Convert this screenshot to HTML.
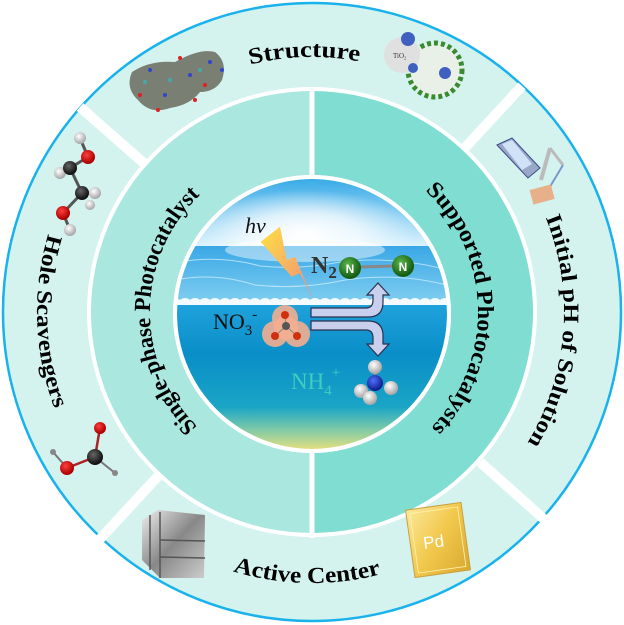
<!DOCTYPE html>
<html><head><meta charset="utf-8"><style>
html,body{margin:0;padding:0;background:#fff;width:624px;height:625px;overflow:hidden}
svg{display:block}
.t{font-family:"Liberation Serif",serif;font-weight:bold;fill:#000}
</style></head><body>
<svg width="624" height="625" viewBox="0 0 624 625">
<defs>
<clipPath id="cc"><circle cx="312" cy="314" r="135"/></clipPath>
<linearGradient id="sky" x1="0" y1="0" x2="0" y2="1">
<stop offset="0" stop-color="#2ea6e6"/><stop offset="1" stop-color="#e6f7ff"/></linearGradient>
<radialGradient id="sun" cx="0.5" cy="0.5" r="0.5">
<stop offset="0" stop-color="#fff" stop-opacity="1"/><stop offset="0.5" stop-color="#fff" stop-opacity="0.7"/><stop offset="1" stop-color="#fff" stop-opacity="0"/></radialGradient>
<linearGradient id="sea" x1="0" y1="0" x2="0" y2="1">
<stop offset="0" stop-color="#3aa8e6"/><stop offset="1" stop-color="#7fcdf0"/></linearGradient>
<linearGradient id="water" x1="0" y1="0" x2="0" y2="1">
<stop offset="0" stop-color="#21a3dc"/><stop offset="0.35" stop-color="#0a8ec8"/><stop offset="0.7" stop-color="#1aa5c6"/><stop offset="0.85" stop-color="#7fcaa8"/><stop offset="1" stop-color="#f0e27a"/></linearGradient>
<linearGradient id="bolt" x1="0" y1="0" x2="1" y2="1">
<stop offset="0" stop-color="#ffe040"/><stop offset="1" stop-color="#f08a80"/></linearGradient>
<radialGradient id="gr" cx="0.4" cy="0.35" r="0.6"><stop offset="0" stop-color="#5cb84c"/><stop offset="1" stop-color="#145c12"/></radialGradient>
<radialGradient id="wh" cx="0.4" cy="0.35" r="0.6"><stop offset="0" stop-color="#fff"/><stop offset="1" stop-color="#aaa"/></radialGradient>
<radialGradient id="rd" cx="0.4" cy="0.35" r="0.6"><stop offset="0" stop-color="#ff4040"/><stop offset="1" stop-color="#a00"/></radialGradient>
<radialGradient id="bk" cx="0.4" cy="0.35" r="0.6"><stop offset="0" stop-color="#666"/><stop offset="1" stop-color="#111"/></radialGradient>
<radialGradient id="bl" cx="0.4" cy="0.35" r="0.6"><stop offset="0" stop-color="#5070ff"/><stop offset="1" stop-color="#102090"/></radialGradient>
<linearGradient id="met" x1="0" y1="0" x2="1" y2="1"><stop offset="0" stop-color="#eee"/><stop offset="0.5" stop-color="#888"/><stop offset="1" stop-color="#ccc"/></linearGradient>
<linearGradient id="gold" x1="0" y1="0" x2="1" y2="1"><stop offset="0" stop-color="#fbe89a"/><stop offset="0.5" stop-color="#f2c84c"/><stop offset="1" stop-color="#d8a830"/></linearGradient>
<path id="pS" d="M250,64.6 A255,255 0 0 1 360,61.5"/>
<path id="pA" d="M233,571.2 A271,271 0 0 0 385,573"/>
<path id="pH" d="M48.3,233.9 A275,275 0 0 0 55.3,410.6"/>
<path id="pI" d="M545.6,217.6 A252,252 0 0 1 525.7,445.5"/>
<path id="pSP" d="M197.4,426.6 A162,162 0 0 1 203.6,191.6"/>
<path id="pSu" d="M425.2,190.6 A166,166 0 0 1 427.3,431.4"/>
</defs>

<circle cx="312" cy="312" r="309" fill="#d4f3ef" stroke="#1ab2ec" stroke-width="2.5"/>
<g stroke="#fff" stroke-width="10">
<line x1="146" y1="165" x2="80" y2="107"/>
<line x1="462" y1="151" x2="522" y2="86"/>
<line x1="480" y1="462" x2="545" y2="520"/>
<line x1="161" y1="473" x2="100" y2="539"/>
</g>
<circle cx="312" cy="312" r="225" fill="#fff"/>
<path d="M312,91 A221,221 0 0 0 312,533 Z" fill="#aae7df"/>
<path d="M312,91 A221,221 0 0 1 312,533 Z" fill="#7fddd2"/>
<rect x="309.5" y="88" width="5" height="450" fill="#fff"/>
<circle cx="312" cy="314" r="139" fill="#fff"/>
<g clip-path="url(#cc)">
<rect x="170" y="175" width="290" height="75" fill="url(#sky)"/>
<ellipse cx="305" cy="235" rx="110" ry="45" fill="url(#sun)"/>
<rect x="170" y="246" width="290" height="56" fill="url(#sea)"/>
<g stroke="#d8f3ff" stroke-width="1" fill="none" opacity="0.7">
<path d="M180,262 Q220,255 260,266 Q300,270 340,262 Q390,256 440,268"/>
<path d="M175,280 Q215,272 255,285 Q300,290 345,280 Q400,272 450,286"/>
</g>
<ellipse cx="305" cy="250" rx="80" ry="12" fill="#fff" opacity="0.45"/>
<rect x="170" y="302" width="290" height="150" fill="url(#water)"/>
<path d="M170,300 q5,-4 10,0 q5,-4 10,0 q5,-4 10,0 q5,-4 10,0 q5,-4 10,0 q5,-4 10,0 q5,-4 10,0 q5,-4 10,0 q5,-4 10,0 q5,-4 10,0 q5,-4 10,0 q5,-4 10,0 q5,-4 10,0 q5,-4 10,0 q5,-4 10,0 q5,-4 10,0 q5,-4 10,0 q5,-4 10,0 q5,-4 10,0 q5,-4 10,0 q5,-4 10,0 q5,-4 10,0 q5,-4 10,0 q5,-4 10,0 q5,-4 10,0 q5,-4 10,0 q5,-4 10,0 q5,-4 10,0 q5,-4 10,0 L460,305 L170,305Z" fill="#f4fbff"/>
</g>
<circle cx="312" cy="314" r="137" fill="none" stroke="#fff" stroke-width="4"/>

<text x="245" y="233" font-family="Liberation Serif,serif" font-style="italic" font-size="22" fill="#111">hv</text>
<polygon points="260.7,241.7 280,226.7 286.7,260 295,256.7 313.3,300 300,273.3 291.7,276.7" fill="url(#bolt)"/>
<text x="311" y="273" font-family="Liberation Serif,serif" font-weight="bold" font-size="24" fill="#333">N<tspan font-size="17" dy="5">2</tspan></text>
<line x1="358" y1="267" x2="395" y2="266" stroke="#888" stroke-width="3"/>
<circle cx="350" cy="268" r="11" fill="url(#gr)"/>
<circle cx="403" cy="266" r="11" fill="url(#gr)"/>
<text x="350" y="273" font-family="Liberation Sans,sans-serif" font-weight="bold" font-size="12" fill="#fff" text-anchor="middle">N</text>
<text x="403" y="271" font-family="Liberation Sans,sans-serif" font-weight="bold" font-size="12" fill="#fff" text-anchor="middle">N</text>
<text x="213" y="329" font-family="Liberation Serif,serif" font-size="22" fill="#111">NO<tspan font-size="15" dy="6">3</tspan><tspan font-size="15" dy="-16">-</tspan></text>
<g>
<circle cx="285" cy="318" r="13" fill="#f2ae90" opacity="0.9"/>
<circle cx="275" cy="334" r="13" fill="#f2ae90" opacity="0.9"/>
<circle cx="297" cy="334" r="13" fill="#f2ae90" opacity="0.9"/>
<circle cx="286" cy="328" r="12" fill="#f2ae90"/>
<line x1="286" y1="326" x2="285" y2="315" stroke="#888"/><line x1="286" y1="326" x2="275" y2="336" stroke="#888"/><line x1="286" y1="326" x2="297" y2="336" stroke="#888"/>
<circle cx="285" cy="315" r="4" fill="#d03010"/><circle cx="275" cy="336" r="4" fill="#d03010"/><circle cx="297" cy="336" r="4" fill="#d03010"/><circle cx="286" cy="326" r="4" fill="#555"/>
</g>
<g fill="#c9d0ee" stroke="#2a3050" stroke-width="1.2">
<path d="M311,308 L366,308 Q373,308 373,300 L373,295 L367,295 L378,283 L389,295 L383,295 L383,302 Q383,317 368,317 L311,317 Z"/>
<path d="M311,321 L368,321 Q383,321 383,336 L383,344 L389,344 L378,356 L367,344 L373,344 L373,338 Q373,330 366,330 L311,330 Z"/>
</g>
<text x="291" y="389" font-family="Liberation Serif,serif" font-size="23" fill="#40cdc0">NH<tspan font-size="15" dy="6">4</tspan><tspan font-size="15" dy="-18">+</tspan></text>
<g>
<line x1="375" y1="383" x2="375" y2="367" stroke="#888" stroke-width="3"/>
<circle cx="375" cy="367" r="7" fill="url(#wh)"/>
<circle cx="375" cy="383" r="8" fill="url(#bl)"/>
<circle cx="361" cy="391" r="7" fill="url(#wh)"/>
<circle cx="391" cy="388" r="7" fill="url(#wh)"/>
<circle cx="370" cy="398" r="7" fill="url(#wh)"/>
</g>

<text class="t" font-size="23"><textPath href="#pS" textLength="110" lengthAdjust="spacingAndGlyphs">Structure</textPath></text>
<text class="t" font-size="23"><textPath href="#pA" textLength="150" lengthAdjust="spacingAndGlyphs">Active Center</textPath></text>
<text class="t" font-size="22"><textPath href="#pH" textLength="178" lengthAdjust="spacingAndGlyphs">Hole Scavengers</textPath></text>
<text class="t" font-size="22"><textPath href="#pI" textLength="234" lengthAdjust="spacingAndGlyphs">Initial pH of Solution</textPath></text>
<text class="t" font-size="23"><textPath href="#pSP" textLength="258" lengthAdjust="spacingAndGlyphs">Single-phase Photocatalyst</textPath></text>
<text class="t" font-size="23"><textPath href="#pSu" textLength="264" lengthAdjust="spacingAndGlyphs">Supported Photocatalysts</textPath></text>

<g>
<path d="M132,72 Q150,60 175,62 Q200,48 215,52 Q228,62 222,80 Q215,92 200,92 Q190,105 170,108 Q150,115 138,100 Q125,88 132,72Z" fill="#6a6a5e" opacity="0.85"/>
<g fill="#3344cc"><circle cx="150" cy="70" r="2"/><circle cx="190" cy="75" r="2"/><circle cx="210" cy="62" r="2"/><circle cx="165" cy="95" r="2"/><circle cx="222" cy="70" r="2"/></g>
<g fill="#dd2222"><circle cx="140" cy="95" r="2"/><circle cx="180" cy="58" r="2"/><circle cx="195" cy="100" r="2"/><circle cx="158" cy="110" r="2"/><circle cx="205" cy="85" r="2"/></g>
<g fill="#44aaaa"><circle cx="170" cy="80" r="2"/><circle cx="145" cy="82" r="2"/><circle cx="200" cy="70" r="2"/></g>
</g>
<g>
<circle cx="435" cy="70" r="27" fill="#e8f0e8" stroke="#3a8a30" stroke-width="5" stroke-dasharray="4 3"/>
<circle cx="402" cy="55" r="18" fill="#e0e0e0"/>
<text x="393" y="58" font-family="Liberation Serif,serif" font-size="7" fill="#333">TiO₂</text>
<circle cx="408" cy="39" r="7" fill="#4060c0"/><circle cx="413" cy="68" r="5" fill="#4060c0"/><circle cx="445" cy="73" r="6" fill="#4060c0"/>
</g>
<g>
<polygon points="497,145 512,138 540,168 528,178" fill="#9aa8c8" stroke="#3a4a8a"/>
<polygon points="502,144 512,140 532,164 522,170" fill="#cfe2f8"/>
<line x1="541" y1="180" x2="550" y2="148" stroke="#bbb" stroke-width="4"/>
<line x1="550" y1="148" x2="563" y2="165" stroke="#bbb" stroke-width="3"/>
<line x1="563" y1="165" x2="545" y2="195" stroke="#7799cc" stroke-width="2"/>
<rect x="531" y="187" width="22" height="15" fill="#e8b08a" transform="rotate(-15 542 194)"/>
</g>
<g stroke="#555" stroke-width="3">
<line x1="80" y1="138" x2="88" y2="157"/><line x1="88" y1="157" x2="70" y2="168"/><line x1="70" y1="168" x2="82" y2="193"/><line x1="82" y1="193" x2="63" y2="213"/><line x1="63" y1="213" x2="70" y2="230"/>
</g>
<circle cx="80" cy="138" r="6" fill="url(#wh)"/><circle cx="60" cy="173" r="6" fill="url(#wh)"/><circle cx="95" cy="193" r="6" fill="url(#wh)"/><circle cx="90" cy="205" r="5" fill="url(#wh)"/>
<circle cx="88" cy="157" r="7" fill="url(#rd)"/><circle cx="70" cy="168" r="7" fill="url(#bk)"/><circle cx="82" cy="193" r="7" fill="url(#bk)"/><circle cx="63" cy="213" r="7" fill="url(#rd)"/><circle cx="70" cy="230" r="6" fill="url(#wh)"/>
<g stroke="#aa2222" stroke-width="2.5"><line x1="100" y1="428" x2="95" y2="457"/><line x1="95" y1="457" x2="67" y2="468"/></g>
<g stroke="#777" stroke-width="2"><line x1="95" y1="457" x2="115" y2="473"/><line x1="67" y1="468" x2="53" y2="452"/></g>
<circle cx="100" cy="428" r="6" fill="url(#rd)"/><circle cx="95" cy="457" r="8" fill="url(#bk)"/><circle cx="67" cy="468" r="7" fill="url(#rd)"/><circle cx="53" cy="452" r="3" fill="#888"/><circle cx="115" cy="473" r="3" fill="#888"/>
<g>
<polygon points="142,520 158,510 205,515 204,578 160,578 142,560" fill="url(#met)"/>
<g stroke="#555" stroke-width="1.5" fill="none"><line x1="160" y1="540" x2="205" y2="541"/><line x1="160" y1="557" x2="205" y2="558"/><line x1="160" y1="512" x2="160" y2="578"/><line x1="150" y1="515" x2="150" y2="570"/></g>
</g>
<g transform="rotate(-8 438 540)">
<rect x="410" y="506" width="56" height="68" fill="url(#gold)" stroke="#c8a040"/>
<rect x="414" y="510" width="48" height="60" fill="none" stroke="#fff3b0" stroke-width="0.8"/>
<text x="423" y="547" font-family="Liberation Sans,sans-serif" font-size="17" fill="#fff">Pd</text>
</g>
</svg>
</body></html>
